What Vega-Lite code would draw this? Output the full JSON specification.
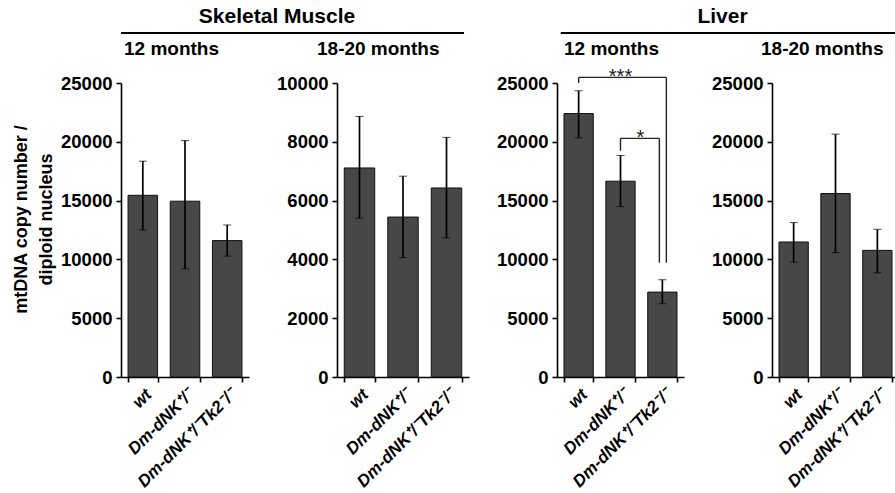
{
  "$schema": "https://vega.github.io/schema/vega-lite/v6.json",
  "background": "white",
  "padding": {"left": 12, "top": 6, "right": 0, "bottom": 0},
  "config": {
    "font": "Liberation Sans",
    "view": {"stroke": null},
    "axis": {"domainColor": "black", "domainWidth": 1.6, "tickColor": "black", "tickWidth": 1.6, "tickSize": 5, "labelFont": "Liberation Sans", "labelFontWeight": "bold", "labelFontSize": 18.5, "labelColor": "black", "grid": false, "labelPadding": 4},
    "title": {"font": "Liberation Sans", "fontWeight": "bold", "color": "black"}
  },
  "datasets": {
    "main": [
      {"panel": "SM12", "genotype": "wt", "mean": 15450, "lo": 12500, "hi": 18350},
      {"panel": "SM12", "genotype": "Dm-dNK⁺/⁻", "mean": 14950, "lo": 9200, "hi": 20100},
      {"panel": "SM12", "genotype": "Dm-dNK⁺/⁻Tk2⁻/⁻", "mean": 11600, "lo": 10280, "hi": 12930},
      {"panel": "SM18", "genotype": "wt", "mean": 7110, "lo": 5400, "hi": 8860},
      {"panel": "SM18", "genotype": "Dm-dNK⁺/⁻", "mean": 5440, "lo": 4060, "hi": 6830},
      {"panel": "SM18", "genotype": "Dm-dNK⁺/⁻Tk2⁻/⁻", "mean": 6430, "lo": 4730, "hi": 8150},
      {"panel": "L12", "genotype": "wt", "mean": 22400, "lo": 20340, "hi": 24340},
      {"panel": "L12", "genotype": "Dm-dNK⁺/⁻", "mean": 16650, "lo": 14490, "hi": 18840},
      {"panel": "L12", "genotype": "Dm-dNK⁺/⁻Tk2⁻/⁻", "mean": 7220, "lo": 6230, "hi": 8270},
      {"panel": "L18", "genotype": "wt", "mean": 11480, "lo": 9770, "hi": 13130},
      {"panel": "L18", "genotype": "Dm-dNK⁺/⁻", "mean": 15600, "lo": 10570, "hi": 20650},
      {"panel": "L18", "genotype": "Dm-dNK⁺/⁻Tk2⁻/⁻", "mean": 10770, "lo": 8860, "hi": 12560}
    ],
    "brackets": [
      {"sig": "***", "from": "wt", "mid": "Dm-dNK⁺/⁻", "to": "Dm-dNK⁺/⁻Tk2⁻/⁻", "top": 25480, "fromBottom": 25000, "toBottom": 9720},
      {"sig": "*", "from": "Dm-dNK⁺/⁻", "mid": "Dm-dNK⁺/⁻Tk2⁻/⁻", "to": "Dm-dNK⁺/⁻Tk2⁻/⁻", "top": 20290, "fromBottom": 19240, "toBottom": 9720}
    ],
    "groups": [
      {"tissue": "Skeletal Muscle"},
      {"tissue": "Liver"}
    ]
  },
  "bounds": "flush",
  "spacing": 88,
  "hconcat": [
    {
      "width": 128, "height": 294,
      "title": {"text": "12 months", "anchor": "start", "dx": 3, "fontSize": 19, "frame": "group", "offset": -53},
      "resolve": {"scale": {"x": "independent"}, "axis": {"x": "independent"}},
      "layer": [
        {
          "data": {"name": "main"},
          "transform": [{"filter": "datum.panel === 'SM12'"}],
          "encoding": {"x": {"field": "genotype", "type": "nominal", "sort": ["wt", "Dm-dNK⁺/⁻", "Dm-dNK⁺/⁻Tk2⁻/⁻"], "scale": {"paddingInner": 0.3, "paddingOuter": 0.167}, "axis": {"title": null, "labelAngle": -45, "tickBand": "extent", "labelFontStyle": "italic", "labelFontSize": 17}}},
          "layer": [
            {"mark": {"type": "bar", "fill": "#474747", "stroke": "#111111", "strokeWidth": 1},
             "encoding": {"y": {"field": "mean", "type": "quantitative", "title": ["mtDNA copy number /", "diploid nucleus"], "scale": {"domain": [0, 25000]}, "axis": {"values": [0, 5000, 10000, 15000, 20000, 25000], "format": "d", "titleFontSize": 18, "titleFontWeight": "bold", "titleColor": "black", "titleLineHeight": 25, "titlePadding": 5, "titleY": 136}}}},
            {"mark": {"type": "errorbar", "color": "black", "rule": {"strokeWidth": 1.7}, "ticks": {"size": 8, "strokeWidth": 1.9}},
             "encoding": {"y": {"field": "lo", "type": "quantitative", "title": ["mtDNA copy number /", "diploid nucleus"], "scale": {"domain": [0, 25000]}}, "y2": {"field": "hi"}}}
          ]
        },
        {
          "data": {"name": "groups"},
          "transform": [{"filter": "datum.tissue === 'Skeletal Muscle'"}],
          "layer": [
            {"mark": {"type": "rule", "color": "black", "strokeWidth": 2.2},
             "encoding": {
               "x": {"datum": 0, "type": "quantitative", "scale": {"domain": [0, 1]}, "axis": null}, "x2": {"datum": 2.68},
               "y": {"datum": 29250, "type": "quantitative", "scale": {"domain": [0, 25000]}, "title": ["mtDNA copy number /", "diploid nucleus"]}}},
            {"mark": {"type": "text", "fontSize": 21, "fontWeight": "bold", "color": "black", "baseline": "middle", "align": "center"},
             "encoding": {
               "x": {"datum": 1.219, "type": "quantitative", "scale": {"domain": [0, 1]}, "axis": null},
               "y": {"datum": 30600, "type": "quantitative", "scale": {"domain": [0, 25000]}, "title": ["mtDNA copy number /", "diploid nucleus"]},
               "text": {"field": "tissue"}}}
          ]
        }
      ]
    },
    {
      "width": 132, "height": 294,
      "data": {"name": "main"},
      "title": {"text": "18-20 months", "anchor": "start", "dx": -20, "fontSize": 19, "frame": "group", "offset": 15},
      "transform": [{"filter": "datum.panel === 'SM18'"}],
      "encoding": {"x": {"field": "genotype", "type": "nominal", "sort": ["wt", "Dm-dNK⁺/⁻", "Dm-dNK⁺/⁻Tk2⁻/⁻"], "scale": {"paddingInner": 0.3, "paddingOuter": 0.167}, "axis": {"title": null, "labelAngle": -45, "tickBand": "extent", "labelFontStyle": "italic", "labelFontSize": 17}}},
      "layer": [
        {"mark": {"type": "bar", "fill": "#474747", "stroke": "#111111", "strokeWidth": 1}, "encoding": {"y": {"field": "mean", "type": "quantitative", "title": null, "scale": {"domain": [0, 10000]}, "axis": {"values": [0, 2000, 4000, 6000, 8000, 10000], "format": "d"}}}},
        {"mark": {"type": "errorbar", "color": "black", "rule": {"strokeWidth": 1.7}, "ticks": {"size": 8, "strokeWidth": 1.9}}, "encoding": {"y": {"field": "lo", "type": "quantitative", "title": null, "scale": {"domain": [0, 10000]}}, "y2": {"field": "hi"}}}
      ]
    },
    {
      "width": 127, "height": 294,
      "title": {"text": "12 months", "anchor": "start", "dx": 7, "fontSize": 19, "frame": "group", "offset": -53},
      "resolve": {"scale": {"x": "independent"}, "axis": {"x": "independent"}},
      "layer": [
        {
          "encoding": {"x": {"field": "genotype", "type": "nominal", "scale": {"domain": ["wt", "Dm-dNK⁺/⁻", "Dm-dNK⁺/⁻Tk2⁻/⁻"], "paddingInner": 0.3, "paddingOuter": 0.167}, "axis": {"title": null, "labelAngle": -45, "tickBand": "extent", "labelFontStyle": "italic", "labelFontSize": 17}}},
          "layer": [
            {"data": {"name": "main"}, "transform": [{"filter": "datum.panel === 'L12'"}], "mark": {"type": "bar", "fill": "#474747", "stroke": "#111111", "strokeWidth": 1}, "encoding": {"y": {"field": "mean", "type": "quantitative", "title": null, "scale": {"domain": [0, 25000]}, "axis": {"values": [0, 5000, 10000, 15000, 20000, 25000], "format": "d"}}}},
            {"data": {"name": "main"}, "transform": [{"filter": "datum.panel === 'L12'"}], "mark": {"type": "errorbar", "color": "black", "rule": {"strokeWidth": 1.7}, "ticks": {"size": 8, "strokeWidth": 1.9}}, "encoding": {"y": {"field": "lo", "type": "quantitative", "title": null, "scale": {"domain": [0, 25000]}}, "y2": {"field": "hi"}}},
            {"data": {"name": "brackets"}, "transform": [{"filter": "datum.sig === '***'"}], "mark": {"type": "rule", "color": "#222222", "strokeWidth": 1.4, "x2Offset": 4}, "encoding": {"x": {"field": "from", "type": "nominal", "scale": {"domain": ["wt", "Dm-dNK⁺/⁻", "Dm-dNK⁺/⁻Tk2⁻/⁻"]}}, "x2": {"field": "to"}, "y": {"field": "top", "type": "quantitative", "title": null, "scale": {"domain": [0, 25000]}}}},
            {"data": {"name": "brackets"}, "transform": [{"filter": "datum.sig === '*'"}], "mark": {"type": "rule", "color": "#222222", "strokeWidth": 1.4, "x2Offset": -3}, "encoding": {"x": {"field": "from", "type": "nominal", "scale": {"domain": ["wt", "Dm-dNK⁺/⁻", "Dm-dNK⁺/⁻Tk2⁻/⁻"]}}, "x2": {"field": "to"}, "y": {"field": "top", "type": "quantitative", "title": null, "scale": {"domain": [0, 25000]}}}},
            {"data": {"name": "brackets"}, "mark": {"type": "rule", "color": "#222222", "strokeWidth": 1.4}, "encoding": {"x": {"field": "from", "type": "nominal", "scale": {"domain": ["wt", "Dm-dNK⁺/⁻", "Dm-dNK⁺/⁻Tk2⁻/⁻"]}}, "y": {"field": "fromBottom", "type": "quantitative", "title": null, "scale": {"domain": [0, 25000]}}, "y2": {"field": "top"}}},
            {"data": {"name": "brackets"}, "transform": [{"filter": "datum.sig === '***'"}], "mark": {"type": "rule", "color": "#222222", "strokeWidth": 1.4, "xOffset": 4}, "encoding": {"x": {"field": "to", "type": "nominal", "scale": {"domain": ["wt", "Dm-dNK⁺/⁻", "Dm-dNK⁺/⁻Tk2⁻/⁻"]}}, "y": {"field": "toBottom", "type": "quantitative", "title": null, "scale": {"domain": [0, 25000]}}, "y2": {"field": "top"}}},
            {"data": {"name": "brackets"}, "transform": [{"filter": "datum.sig === '*'"}], "mark": {"type": "rule", "color": "#222222", "strokeWidth": 1.4, "xOffset": -3}, "encoding": {"x": {"field": "to", "type": "nominal", "scale": {"domain": ["wt", "Dm-dNK⁺/⁻", "Dm-dNK⁺/⁻Tk2⁻/⁻"]}}, "y": {"field": "toBottom", "type": "quantitative", "title": null, "scale": {"domain": [0, 25000]}}, "y2": {"field": "top"}}},
            {"data": {"name": "brackets"}, "transform": [{"filter": "datum.sig === '***'"}], "mark": {"type": "text", "fontSize": 20, "color": "#222222", "baseline": "alphabetic", "dy": 6}, "encoding": {"x": {"field": "mid", "type": "nominal", "scale": {"domain": ["wt", "Dm-dNK⁺/⁻", "Dm-dNK⁺/⁻Tk2⁻/⁻"]}}, "y": {"field": "top", "type": "quantitative", "title": null, "scale": {"domain": [0, 25000]}}, "text": {"field": "sig"}}},
            {"data": {"name": "brackets"}, "transform": [{"filter": "datum.sig === '*'"}], "mark": {"type": "text", "fontSize": 20, "color": "#222222", "baseline": "alphabetic", "dy": 6, "dx": -22}, "encoding": {"x": {"field": "mid", "type": "nominal", "scale": {"domain": ["wt", "Dm-dNK⁺/⁻", "Dm-dNK⁺/⁻Tk2⁻/⁻"]}}, "y": {"field": "top", "type": "quantitative", "title": null, "scale": {"domain": [0, 25000]}}, "text": {"field": "sig"}}}
          ]
        },
        {
          "data": {"name": "groups"},
          "transform": [{"filter": "datum.tissue === 'Liver'"}],
          "layer": [
            {"mark": {"type": "rule", "color": "black", "strokeWidth": 2.2},
             "encoding": {
               "x": {"datum": 0.03, "type": "quantitative", "scale": {"domain": [0, 1]}, "axis": null}, "x2": {"datum": 2.7},
               "y": {"datum": 29250, "type": "quantitative", "scale": {"domain": [0, 25000]}, "title": null}}},
            {"mark": {"type": "text", "fontSize": 21, "fontWeight": "bold", "color": "black", "baseline": "middle", "align": "center"},
             "encoding": {
               "x": {"datum": 1.303, "type": "quantitative", "scale": {"domain": [0, 1]}, "axis": null},
               "y": {"datum": 30600, "type": "quantitative", "scale": {"domain": [0, 25000]}, "title": null},
               "text": {"field": "tissue"}}}
          ]
        }
      ]
    },
    {
      "width": 127, "height": 294,
      "data": {"name": "main"},
      "title": {"text": "18-20 months", "anchor": "start", "dx": -11, "fontSize": 19, "frame": "group", "offset": 15},
      "transform": [{"filter": "datum.panel === 'L18'"}],
      "encoding": {"x": {"field": "genotype", "type": "nominal", "sort": ["wt", "Dm-dNK⁺/⁻", "Dm-dNK⁺/⁻Tk2⁻/⁻"], "scale": {"paddingInner": 0.3, "paddingOuter": 0.167}, "axis": {"title": null, "labelAngle": -45, "tickBand": "extent", "labelFontStyle": "italic", "labelFontSize": 17}}},
      "layer": [
        {"mark": {"type": "bar", "fill": "#474747", "stroke": "#111111", "strokeWidth": 1}, "encoding": {"y": {"field": "mean", "type": "quantitative", "title": null, "scale": {"domain": [0, 25000]}, "axis": {"values": [0, 5000, 10000, 15000, 20000, 25000], "format": "d"}}}},
        {"mark": {"type": "errorbar", "color": "black", "rule": {"strokeWidth": 1.7}, "ticks": {"size": 8, "strokeWidth": 1.9}}, "encoding": {"y": {"field": "lo", "type": "quantitative", "title": null, "scale": {"domain": [0, 25000]}}, "y2": {"field": "hi"}}}
      ]
    }
  ]
}
